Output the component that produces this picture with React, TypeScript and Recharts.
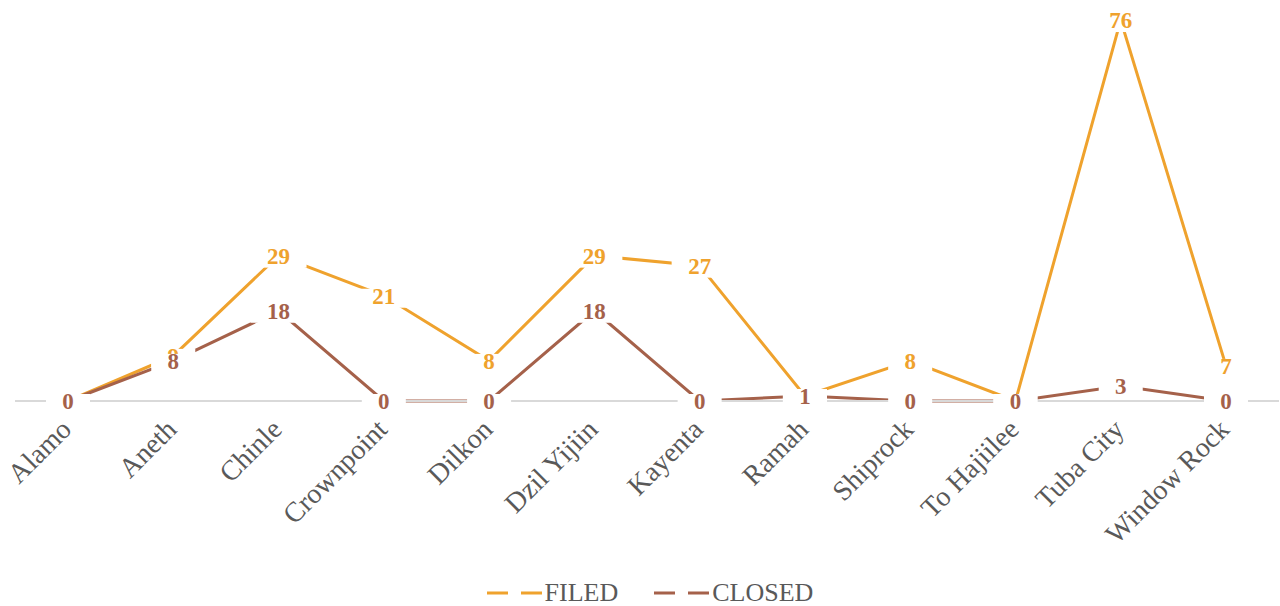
import { LineChart, Line, XAxis, YAxis, Legend } from "recharts";

const categories = [
  "Alamo",
  "Aneth",
  "Chinle",
  "Crownpoint",
  "Dilkon",
  "Dzil Yijiin",
  "Kayenta",
  "Ramah",
  "Shiprock",
  "To Hajiilee",
  "Tuba City",
  "Window Rock",
];
const filed = [0, 9, 29, 21, 8, 29, 27, 1, 8, 0, 76, 7];
const closed = [0, 8, 18, 0, 0, 18, 0, 1, 0, 0, 3, 0];

const FILED_COLOR = "#EFA22D";
const CLOSED_COLOR = "#A5614A";
const FONT = "'Liberation Serif', 'DejaVu Serif', serif";

const data = categories.map((name, i) => ({ name, filed: filed[i], closed: closed[i] }));

const makeLabel = (color: string) => (props: any) => {
  const { x, y, value } = props;
  const s = String(value);
  const w = 12 * s.length + 32;
  return (
    <g>
      <rect x={x - w / 2} y={y - 7} width={w} height={19} fill="#fff" />
      <text
        x={x}
        y={y}
        dy={8}
        textAnchor="middle"
        fontFamily={FONT}
        fontWeight="bold"
        fontSize={23}
        fill={color}
      >
        {s}
      </text>
    </g>
  );
};

const Tick = (props: any) => {
  const { x, y, payload } = props;
  const tx = x + 5;
  const ty = y + 22;
  return (
    <text
      x={tx}
      y={ty}
      transform={`rotate(-45, ${tx}, ${ty})`}
      textAnchor="end"
      fontFamily={FONT}
      fontSize={28}
      fill="#595959"
    >
      {payload.value}
    </text>
  );
};

const LegendContent = () => (
  <div
    style={{
      display: "flex",
      justifyContent: "center",
      gap: 36,
      fontFamily: FONT,
      fontSize: 26,
      lineHeight: "28px",
      color: "#595959",
      paddingLeft: 6,
    }}
  >
    {[
      { label: "FILED", color: FILED_COLOR },
      { label: "CLOSED", color: CLOSED_COLOR },
    ].map((it) => (
      <div key={it.label} style={{ display: "flex", alignItems: "center" }}>
        <svg width={56} height={10} style={{ marginRight: 2 }}>
          <line x1={0} y1={5} x2={56} y2={5} stroke={it.color} strokeWidth={3} strokeDasharray="21 13" />
        </svg>
        <span>{it.label}</span>
      </div>
    ))}
  </div>
);

export default function App() {
  return (
    <div style={{ position: "absolute", left: 0, top: 0 }}>
      <LineChart
        width={1280}
        height={606}
        data={data}
        margin={{ top: 0, right: 1, left: 15, bottom: 0 }}
      >
        <XAxis
          dataKey="name"
          interval={0}
          tickLine={false}
          axisLine={{ stroke: "#D9D9D9", strokeWidth: 2 }}
          tick={<Tick />}
          height={177}
          padding={{ left: 53, right: 53 }}
        />
        <YAxis hide domain={[0, 80]} />
        <Legend verticalAlign="bottom" content={<LegendContent />} wrapperStyle={{ bottom: -1 }} />
        <Line
          dataKey="filed"
          name="FILED"
          stroke={FILED_COLOR}
          strokeWidth={3}
          dot={false}
          isAnimationActive={false}
        />
        <Line
          dataKey="closed"
          name="CLOSED"
          stroke={CLOSED_COLOR}
          strokeWidth={3}
          dot={false}
          isAnimationActive={false}
        />
        <Line
          dataKey="filed"
          stroke="none"
          dot={false}
          legendType="none"
          isAnimationActive={false}
          label={makeLabel(FILED_COLOR)}
        />
        <Line
          dataKey="closed"
          stroke="none"
          dot={false}
          legendType="none"
          isAnimationActive={false}
          label={makeLabel(CLOSED_COLOR)}
        />
      </LineChart>
    </div>
  );
}
